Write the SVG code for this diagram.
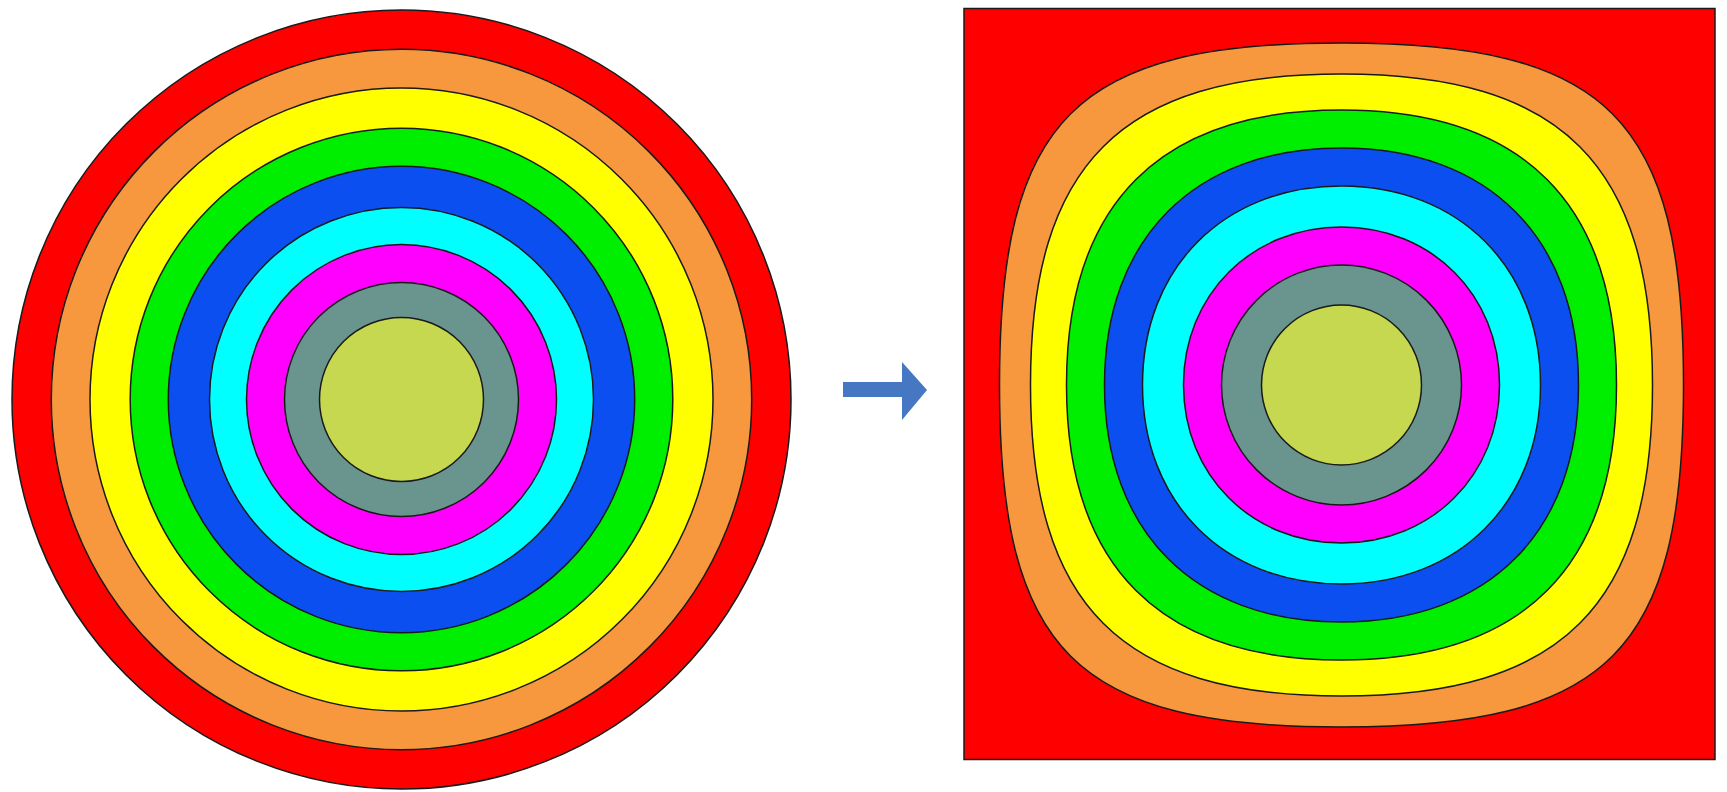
<svg xmlns="http://www.w3.org/2000/svg" width="1727" height="792" viewBox="0 0 1727 792">
<style>
.r{stroke:#1a1a1a;stroke-width:1.5}
.red{fill:#ff0000}.org{fill:#f7983f}.yel{fill:#ffff00}.grn{fill:#00ee00}.blu{fill:#0c4ff0}.cyn{fill:#00ffff}.mag{fill:#ff00ff}.gry{fill:#6a948e}.lim{fill:#c6d850}
</style>
<rect width="1727" height="792" fill="#ffffff"/>
<g id="circle-rings">
<circle class="r red" cx="401.5" cy="399.5" r="389.5"/>
<circle class="r org" cx="401.5" cy="399.5" r="350.2"/>
<circle class="r yel" cx="401.5" cy="399.5" r="311.5"/>
<circle class="r grn" cx="401.5" cy="399.5" r="271.3"/>
<circle class="r blu" cx="401.5" cy="399.5" r="233.2"/>
<circle class="r cyn" cx="401.5" cy="399.5" r="192"/>
<circle class="r mag" cx="401.5" cy="399.5" r="155"/>
<circle class="r gry" cx="401.5" cy="399.5" r="117"/>
<circle class="r lim" cx="401.5" cy="399.5" r="82"/>
</g>
<g id="arrow">
<polygon points="843,382 902,382 902,362 927,390 902,420 902,397 843,397" fill="#4677c2"/>
</g>
<g id="square-rings">
<rect class="r red" x="964" y="8.5" width="751" height="751"/>
<path class="r org" d="M1683.5,385 C1683.5,651.8 1608.3,727 1341.5,727 C1074.7,727 999.5,651.8 999.5,385 C999.5,118.2 1074.7,43 1341.5,43 C1608.3,43 1683.5,118.2 1683.5,385 Z"/>
<path class="r yel" d="M1652.5,385 C1652.5,605.8 1562.3,696 1341.5,696 C1120.7,696 1030.5,605.8 1030.5,385 C1030.5,164.2 1120.7,74 1341.5,74 C1562.3,74 1652.5,164.2 1652.5,385 Z"/>
<path class="r grn" d="M1616.5,385 C1616.5,566.5 1523,660 1341.5,660 C1160,660 1066.5,566.5 1066.5,385 C1066.5,203.5 1160,110 1341.5,110 C1523,110 1616.5,203.5 1616.5,385 Z"/>
<path class="r blu" d="M1578.5,385 C1578.5,531.9 1488.4,622 1341.5,622 C1194.6,622 1104.5,531.9 1104.5,385 C1104.5,238.1 1194.6,148 1341.5,148 C1488.4,148 1578.5,238.1 1578.5,385 Z"/>
<path class="r cyn" d="M1540.5,385 C1540.5,502.4 1458.9,584 1341.5,584 C1224.1,584 1142.5,502.4 1142.5,385 C1142.5,267.6 1224.1,186 1341.5,186 C1458.9,186 1540.5,267.6 1540.5,385 Z"/>
<path class="r mag" d="M1499.5,385 C1499.5,475.1 1431.6,543 1341.5,543 C1251.4,543 1183.5,475.1 1183.5,385 C1183.5,294.9 1251.4,227 1341.5,227 C1431.6,227 1499.5,294.9 1499.5,385 Z"/>
<circle class="r gry" cx="1341.5" cy="385" r="120"/>
<circle class="r lim" cx="1341.5" cy="385" r="80"/>
</g>
</svg>
